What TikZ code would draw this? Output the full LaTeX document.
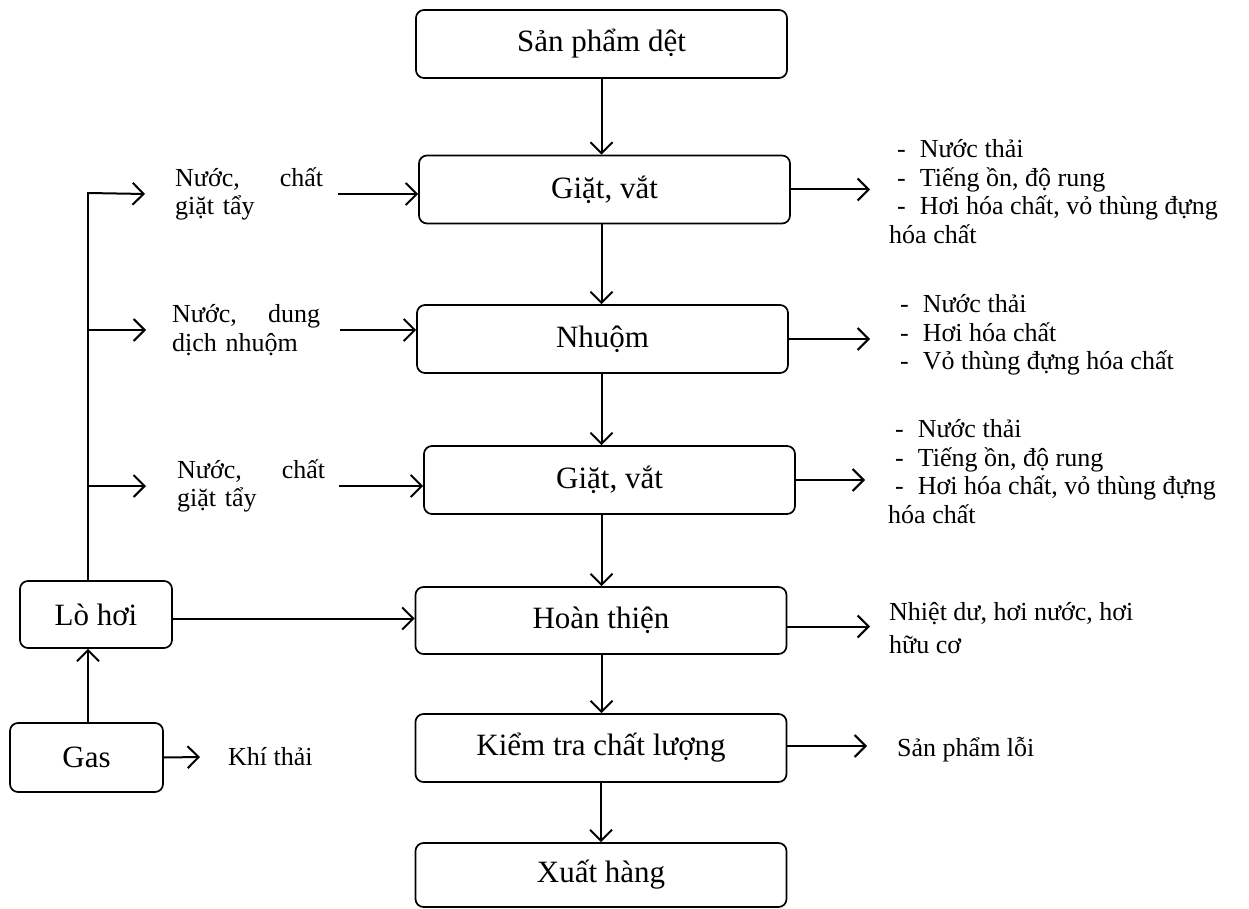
\documentclass[tikz,border=0pt]{standalone}
\usepackage{fontspec}
\setmainfont{Liberation Serif}
\usetikzlibrary{arrows.meta}
\begin{document}
\begin{tikzpicture}[x=1pt,y=-1pt,
  stage/.style={draw,rounded corners=8pt,line width=1.7pt,minimum width=371pt,
    minimum height=68pt,inner sep=0pt,font=\fontsize{31}{37}\selectfont},
  side/.style={inner sep=0pt,anchor=west,align=left,font=\fontsize{26}{28.5}\selectfont},
  feed/.style={side,text width=148pt},
  arr/.style={-{Straight Barb[length=11pt,width=22pt]},line width=2pt}]
  \useasboundingbox (0,0) rectangle (1249,909);

  \node [stage] (sp) at (601.5,44) {Sản phẩm dệt};
  \node [stage] (g1) at (604.5,189.5) {Giặt, vắt};
  \node [stage] (nh) at (602.5,339) {Nhuộm};
  \node [stage] (g2) at (609.5,480) {Giặt, vắt};
  \node [stage,minimum height=67pt] (ht) at (601,620.5) {Hoàn thiện};
  \node [stage] (kt) at (601,748) {Kiểm tra chất lượng};
  \node [stage,minimum height=64pt] (xh) at (601,875) {Xuất hàng};

  \node [stage,minimum width=152pt,minimum height=67pt] (lo) at (96,614.5) {Lò hơi};
  \node [stage,minimum width=153pt,minimum height=69pt] (gas) at (86.5,757.5) {Gas};

  \node [feed] (in1) at (175,194) {Nước,\hfill chất\\giặt tẩy};
  \node [feed] (in2) at (172,330) {Nước,\hfill dung\\dịch nhuộm};
  \node [feed] (in3) at (177,486) {Nước,\hfill chất\\giặt tẩy};

  \node [side] (out1) at (889,191.5) {\hspace*{8pt}-\hspace{14pt}Nước thải\\
    \hspace*{8pt}-\hspace{14pt}Tiếng ồn, độ rung\\
    \hspace*{8pt}-\hspace{14pt}Hơi hóa chất, vỏ thùng đựng\\hóa chất};
  \node [side] (out2) at (889,335) {\hspace*{11pt}-\hspace{14pt}Nước thải\\
    \hspace*{11pt}-\hspace{14pt}Hơi hóa chất\\
    \hspace*{11pt}-\hspace{14pt}Vỏ thùng đựng hóa chất};
  \node [side] (out3) at (888,471.5) {\hspace*{7pt}-\hspace{14pt}Nước thải\\
    \hspace*{7pt}-\hspace{14pt}Tiếng ồn, độ rung\\
    \hspace*{7pt}-\hspace{14pt}Hơi hóa chất, vỏ thùng đựng\\hóa chất};
  \node [side] (out4) at (889,628) {Nhiệt dư, hơi nước, hơi\\[4.5pt]hữu cơ};
  \node [side] (out5) at (897,750) {Sản phẩm lỗi};
  \node [side] (khi) at (228,757) {Khí thải};

  \coordinate (bus) at (88,193);

  \draw [arr] (sp.south) -- (sp.south |- g1.north);
  \draw [arr] (g1.south -| sp.south) -- (sp.south |- nh.north);
  \draw [arr] (nh.south -| sp.south) -- (sp.south |- g2.north);
  \draw [arr] (g2.south -| sp.south) -- (sp.south |- ht.north);
  \draw [arr] (ht.south -| sp.south) -- (sp.south |- kt.north);
  \draw [arr] (kt.south) -- (xh.north);

  \draw [arr] ([xshift=15pt]in1.east) -- (in1.east -| g1.west);
  \draw [arr] ([xshift=20pt]in2.east) -- (in2.east -| nh.west);
  \draw [arr] ([xshift=14pt]in3.east) -- (in3.east -| g2.west);

  \draw [line width=1.1pt] (lo.north -| bus) -- ([yshift=1pt]bus);
  \draw [arr] (bus) -- ([xshift=-30pt]in1.west);
  \draw [arr] (bus |- in2.west) -- ([xshift=-26pt]in2.west);
  \draw [arr] (bus |- in3.west) -- ([xshift=-31pt]in3.west);

  \draw [arr] (gas.north -| bus) -- (lo.south -| bus);
  \draw [arr] (gas.east) -- ([xshift=-28pt]khi.west);
  \draw [arr] ([yshift=-4pt]lo.east) -- ([yshift=-4pt]lo.east -| ht.west);

  \draw [arr] (g1.east) -- ([xshift=-19pt]out1.west |- g1.east);
  \draw [arr] (nh.east) -- ([xshift=-19pt]out2.west |- nh.east);
  \draw [arr] (g2.east) -- ([xshift=-23pt]out3.west |- g2.east);
  \draw [arr] ([yshift=-6pt]ht.east) -- ([xshift=-19pt,yshift=-6pt]out4.west |- ht.east);
  \draw [arr] ([yshift=2pt]kt.east) -- ([xshift=-30pt,yshift=2pt]out5.west |- kt.east);
\end{tikzpicture}
\end{document}
